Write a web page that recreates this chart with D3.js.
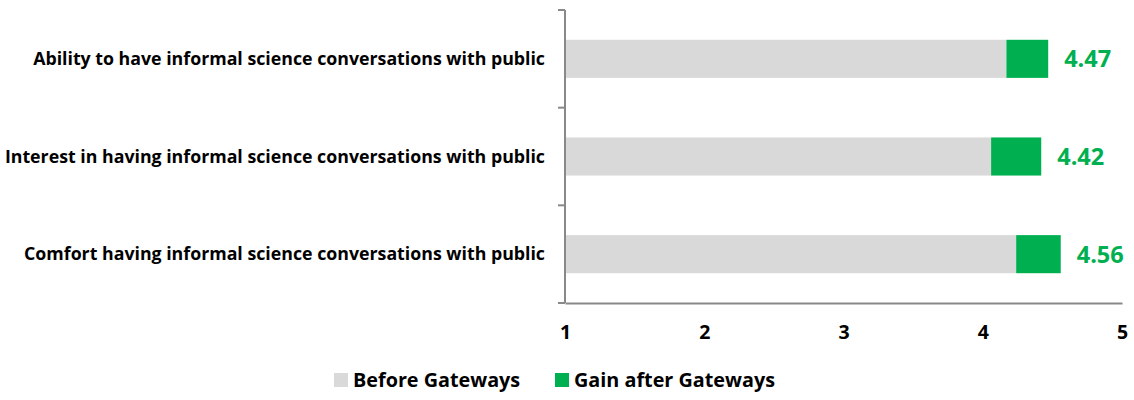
<!DOCTYPE html>
<html>
<head>
<meta charset="utf-8">
<script src="https://cdn.jsdelivr.net/npm/d3@7"></script>
<style>
  body { margin: 0; background: #fff; }
  text { font-family: "Open Sans", Lato, sans-serif; font-weight: bold; }
</style>
</head>
<body>
<div class="chart"></div>
<script>
// Categories (top to bottom) and values
const categories = [
  "Ability to have informal science conversations with public",
  "Interest in having informal science conversations with public",
  "Comfort having informal science conversations with public",
];
const beforeValues = [4.17, 4.06, 4.24];
const afterValues = [4.47, 4.42, 4.56];
const xTicks = [1, 2, 3, 4, 5];
const seriesNames = ["Before Gateways", "Gain after Gateways"];
const seriesColors = ["#d9d9d9", "#00b050"];

const W = 1134, H = 400;
const margin = { top: 10, right: 12, bottom: 97, left: 565 };
const width = W - margin.left - margin.right,
  height = H - margin.top - margin.bottom;

const svg = d3
  .select(".chart")
  .append("svg")
  .attr("width", W)
  .attr("height", H);

const g = svg.append("g").attr("transform", `translate(${margin.left},${margin.top})`);

// Scales
const x = d3.scaleLinear().domain([1, 5]).range([0, width]);
const y = d3.scaleBand().domain(categories).range([0, height]).paddingInner(0.61).paddingOuter(0.305);

// Before bars
g.selectAll(".before")
  .data(categories)
  .join("rect")
  .attr("class", "before")
  .attr("x", x(1))
  .attr("y", (d) => y(d))
  .attr("width", (d, i) => x(beforeValues[i]) - x(1))
  .attr("height", y.bandwidth())
  .attr("fill", seriesColors[0]);

// Gain bars
g.selectAll(".gain")
  .data(categories)
  .join("rect")
  .attr("class", "gain")
  .attr("x", (d, i) => x(beforeValues[i]))
  .attr("y", (d) => y(d))
  .attr("width", (d, i) => x(afterValues[i]) - x(beforeValues[i]))
  .attr("height", y.bandwidth())
  .attr("fill", seriesColors[1]);

// Value labels
g.selectAll(".val")
  .data(categories)
  .join("text")
  .attr("class", "val")
  .attr("x", (d, i) => x(afterValues[i]) + 16)
  .attr("y", (d) => y(d) + y.bandwidth() / 2)
  .attr("dy", "0.36em")
  .attr("fill", seriesColors[1])
  .style("font-size", "23.5px")
  .text((d, i) => afterValues[i].toFixed(2));

// X axis
const xAxis = g
  .append("g")
  .attr("transform", `translate(0,${height})`)
  .call(d3.axisBottom(x).tickValues(xTicks).tickSize(0).tickPadding(22).tickFormat(d3.format("d")));
xAxis.select(".domain").attr("stroke", "#898989").attr("stroke-width", 2);
xAxis.selectAll("text").style("font-size", "19.5px").attr("fill", "#000").style("font-family", "Open Sans").style("font-weight", "bold");

// Y axis: line with ticks between the categories
const yAxis = g.append("g");
yAxis.append("line")
  .attr("x1", 0).attr("x2", 0)
  .attr("y1", 0).attr("y2", height)
  .attr("stroke", "#898989").attr("stroke-width", 2);
const bounds = d3.range(categories.length + 1).map((i) => i * y.step());
yAxis.selectAll(".tick")
  .data(bounds)
  .join("line")
  .attr("class", "tick")
  .attr("x1", -7).attr("x2", 0)
  .attr("y1", (d) => d).attr("y2", (d) => d)
  .attr("stroke", "#898989").attr("stroke-width", 2);

// Category labels
g.selectAll(".cat")
  .data(categories)
  .join("text")
  .attr("class", "cat")
  .attr("x", -20)
  .attr("y", (d) => y(d) + y.bandwidth() / 2)
  .attr("dy", "0.35em")
  .attr("text-anchor", "end")
  .style("font-size", "17.75px")
  .attr("fill", "#000")
  .text((d) => d);

// Legend
const legend = svg.append("g").attr("transform", "translate(334,373)");
const legendX = [0, 221];
seriesNames.forEach((name, i) => {
  const item = legend.append("g").attr("transform", `translate(${legendX[i]},0)`);
  item.append("rect").attr("width", 14).attr("height", 14).attr("fill", seriesColors[i]);
  item.append("text")
    .attr("x", 19)
    .attr("y", 7)
    .attr("dy", "0.36em")
    .style("font-size", "19.8px")
    .attr("fill", "#000")
    .text(name);
});
</script>
</body>
</html>
